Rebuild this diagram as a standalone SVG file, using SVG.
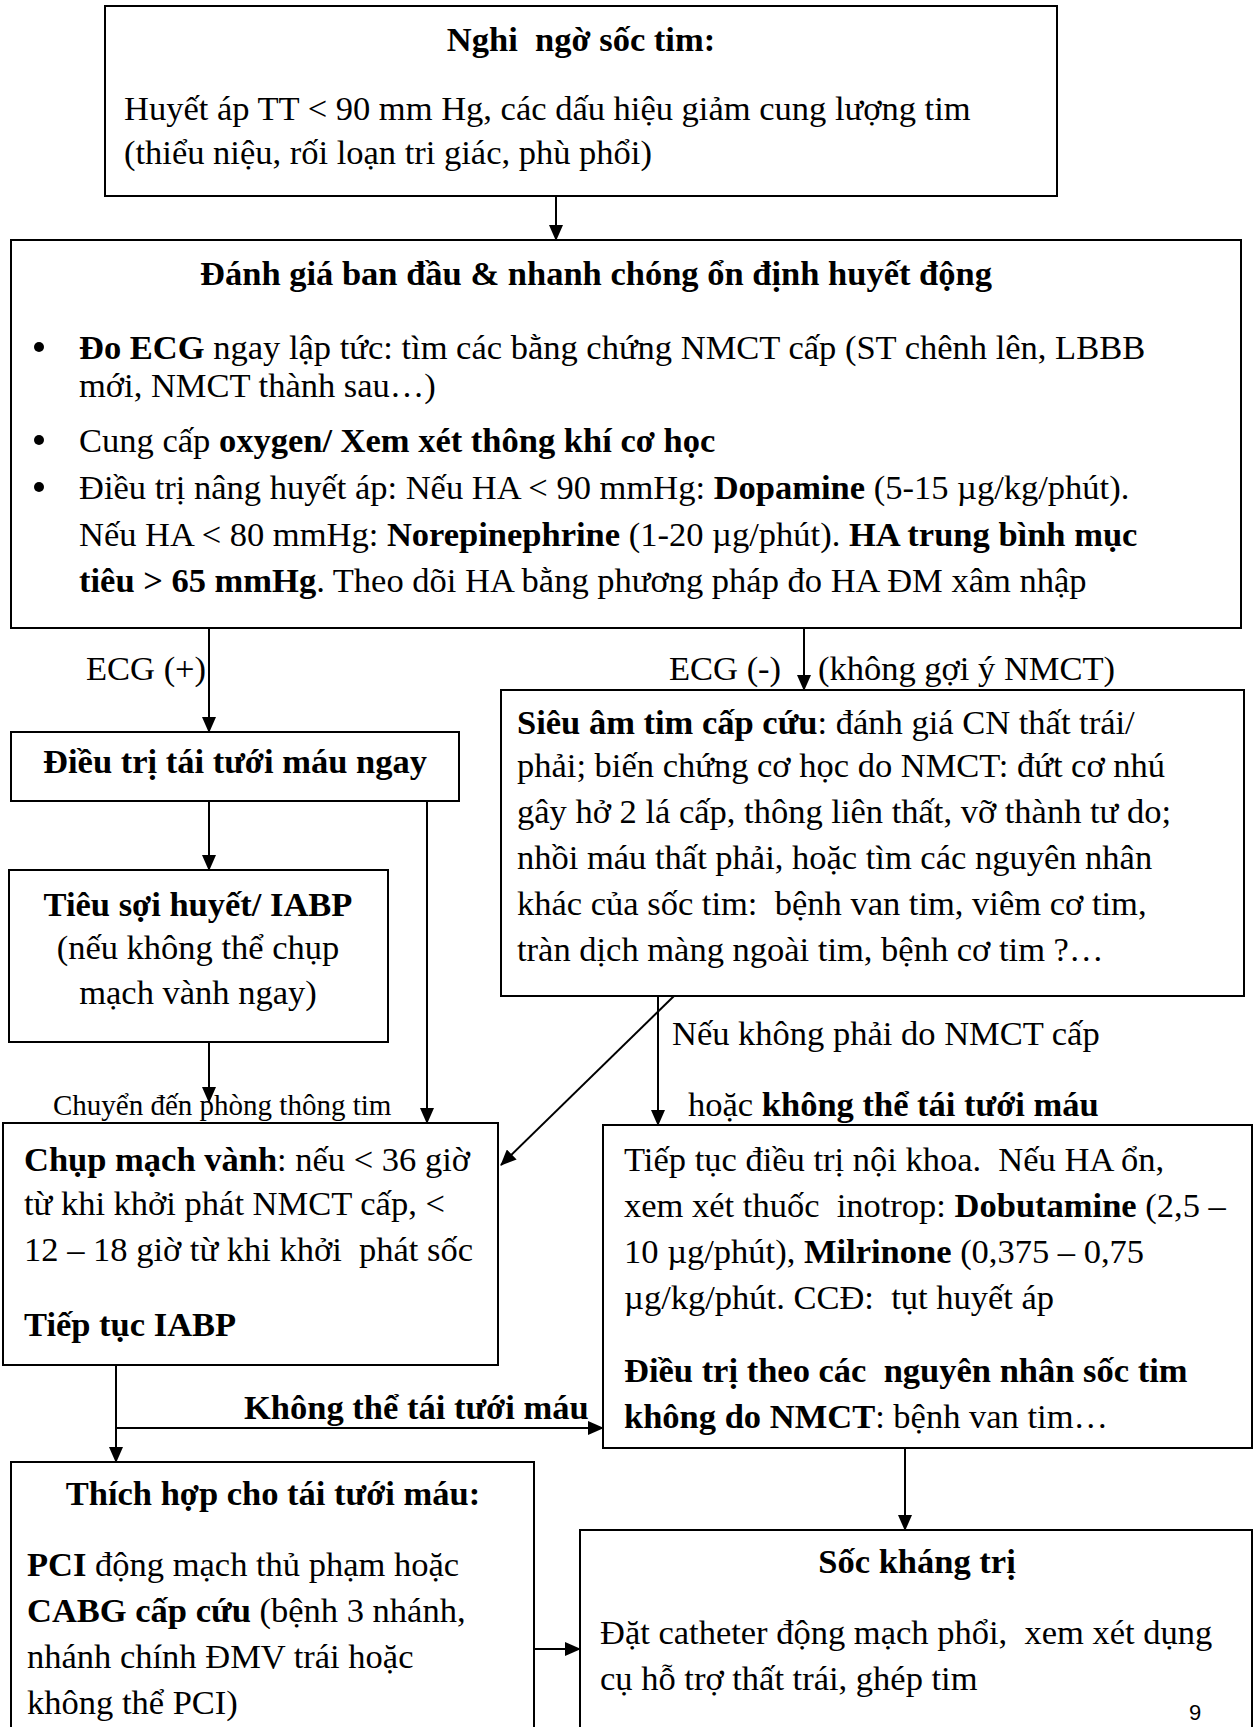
<svg xmlns="http://www.w3.org/2000/svg" width="1254" height="1727" viewBox="0 0 1254 1727">
<style>
text { font-family: "Liberation Serif", "Times New Roman", serif; font-size: 34.5px; fill: #000; white-space: pre; }
.b { font-weight: bold; }
.c { text-anchor: middle; }
.s { font-size: 29px; }
.pg { font-family: "Liberation Sans", Arial, sans-serif; font-size: 22px; }
.box { fill: #fff; stroke: #000; stroke-width: 2; }
.ln { fill: none; stroke: #000; stroke-width: 2; }
</style>
<defs>
<marker id="ah" markerUnits="userSpaceOnUse" markerWidth="16" markerHeight="14" refX="15" refY="7" orient="auto">
<path d="M0,0 L16,7 L0,14 z" fill="#000"/>
</marker>
</defs>
<rect width="1254" height="1727" fill="#fff"/>

<g id="n1">
<rect class="box" x="105" y="6" width="952" height="190"/>
<text class="b c" x="581" y="51">Nghi  ngờ sốc tim:</text>
<text x="124" y="120">Huyết áp TT &lt; 90 mm Hg, các dấu hiệu giảm cung lượng tim</text>
<text x="124" y="164">(thiểu niệu, rối loạn tri giác, phù phổi)</text>
</g>

<g id="n2">
<rect class="box" x="11" y="240" width="1230" height="388"/>
<text class="b c" x="596" y="285">Đánh giá ban đầu &amp; nhanh chóng ổn định huyết động</text>
<circle cx="39" cy="347" r="5"/>
<text x="79" y="359"><tspan class="b">Đo ECG</tspan> ngay lập tức: tìm các bằng chứng NMCT cấp (ST chênh lên, LBBB</text>
<text x="79" y="397">mới, NMCT thành sau…)</text>
<circle cx="39" cy="440" r="5"/>
<text x="79" y="452">Cung cấp <tspan class="b">oxygen/ Xem xét thông khí cơ học</tspan></text>
<circle cx="39" cy="487" r="5"/>
<text x="79" y="499">Điều trị nâng huyết áp: Nếu HA &lt; 90 mmHg: <tspan class="b">Dopamine</tspan> (5-15 µg/kg/phút).</text>
<text x="79" y="546">Nếu HA &lt; 80 mmHg: <tspan class="b">Norepinephrine</tspan> (1-20 µg/phút). <tspan class="b">HA trung bình mục</tspan></text>
<text x="79" y="592"><tspan class="b">tiêu &gt; 65 mmHg</tspan>. Theo dõi HA bằng phương pháp đo HA ĐM xâm nhập</text>
</g>

<g id="n3">
<rect class="box" x="11" y="732" width="448" height="69"/>
<text class="b c" x="235" y="773">Điều trị tái tưới máu ngay</text>
</g>

<g id="n4">
<rect class="box" x="501" y="690" width="743" height="306"/>
<text x="517" y="734"><tspan class="b">Siêu âm tim cấp cứu</tspan>: đánh giá CN thất trái/</text>
<text x="517" y="777">phải; biến chứng cơ học do NMCT: đứt cơ nhú</text>
<text x="517" y="823">gây hở 2 lá cấp, thông liên thất, vỡ thành tư do;</text>
<text x="517" y="869">nhồi máu thất phải, hoặc tìm các nguyên nhân</text>
<text x="517" y="915">khác của sốc tim:  bệnh van tim, viêm cơ tim,</text>
<text x="517" y="961">tràn dịch màng ngoài tim, bệnh cơ tim ?…</text>
</g>

<g id="n5">
<rect class="box" x="9" y="870" width="379" height="172"/>
<text class="b c" x="198" y="916">Tiêu sợi huyết/ IABP</text>
<text class="c" x="198" y="959">(nếu không thể chụp</text>
<text class="c" x="198" y="1004">mạch vành ngay)</text>
</g>

<g id="n6">
<rect class="box" x="3" y="1123" width="495" height="242"/>
<text x="24" y="1171"><tspan class="b">Chụp mạch vành</tspan>: nếu &lt; 36 giờ</text>
<text x="24" y="1215">từ khi khởi phát NMCT cấp, &lt;</text>
<text x="24" y="1261">12 – 18 giờ từ khi khởi  phát sốc</text>
<text class="b" x="24" y="1336">Tiếp tục IABP</text>
</g>

<g id="n7">
<rect class="box" x="603" y="1125" width="649" height="323"/>
<text x="624" y="1171">Tiếp tục điều trị nội khoa.  Nếu HA ổn,</text>
<text x="624" y="1217">xem xét thuốc  inotrop: <tspan class="b">Dobutamine</tspan> (2,5 –</text>
<text x="624" y="1263">10 µg/phút), <tspan class="b">Milrinone</tspan> (0,375 – 0,75</text>
<text x="624" y="1309">µg/kg/phút. CCĐ:  tụt huyết áp</text>
<text class="b" x="624" y="1382">Điều trị theo các  nguyên nhân sốc tim</text>
<text x="624" y="1428"><tspan class="b">không do NMCT</tspan>: bệnh van tim…</text>
</g>

<g id="n8">
<rect class="box" x="11" y="1462" width="523" height="280"/>
<text class="b c" x="273" y="1505">Thích hợp cho tái tưới máu:</text>
<text x="27" y="1576"><tspan class="b">PCI</tspan> động mạch thủ phạm hoặc</text>
<text x="27" y="1622"><tspan class="b">CABG cấp cứu</tspan> (bệnh 3 nhánh,</text>
<text x="27" y="1668">nhánh chính ĐMV trái hoặc</text>
<text x="27" y="1714">không thể PCI)</text>
</g>

<g id="n9">
<rect class="box" x="580" y="1530" width="672" height="212"/>
<text class="b c" x="917" y="1573">Sốc kháng trị</text>
<text x="600" y="1644">Đặt catheter động mạch phổi,  xem xét dụng</text>
<text x="600" y="1690">cụ hỗ trợ thất trái, ghép tim</text>
</g>

<g id="connectors">
<line class="ln" x1="556" y1="196" x2="556" y2="240" marker-end="url(#ah)"/>
<line class="ln" x1="209" y1="628" x2="209" y2="732" marker-end="url(#ah)"/>
<line class="ln" x1="804" y1="628" x2="804" y2="690" marker-end="url(#ah)"/>
<line class="ln" x1="209" y1="801" x2="209" y2="870" marker-end="url(#ah)"/>
<line class="ln" x1="427" y1="801" x2="427" y2="1123" marker-end="url(#ah)"/>
<line class="ln" x1="209" y1="1042" x2="209" y2="1102" marker-end="url(#ah)"/>
<line class="ln" x1="674" y1="996" x2="501" y2="1165" marker-end="url(#ah)"/>
<line class="ln" x1="658" y1="996" x2="658" y2="1125" marker-end="url(#ah)"/>
<line class="ln" x1="116" y1="1365" x2="116" y2="1462" marker-end="url(#ah)"/>
<line class="ln" x1="116" y1="1428" x2="603" y2="1428" marker-end="url(#ah)"/>
<line class="ln" x1="905" y1="1448" x2="905" y2="1530" marker-end="url(#ah)"/>
<line class="ln" x1="534" y1="1649" x2="580" y2="1649" marker-end="url(#ah)"/>
<text x="86" y="680">ECG (+)</text>
<text x="669" y="680">ECG (-)</text>
<text x="818" y="680">(không gợi ý NMCT)</text>
<text class="s" x="53" y="1115">Chuyển đến phòng thông tim</text>
<text x="672" y="1045">Nếu không phải do NMCT cấp</text>
<text x="688" y="1116">hoặc <tspan class="b">không thể tái tưới máu</tspan></text>
<text class="b" x="244" y="1419">Không thể tái tưới máu</text>
</g>
<text class="pg" x="1189" y="1720">9</text>
</svg>
